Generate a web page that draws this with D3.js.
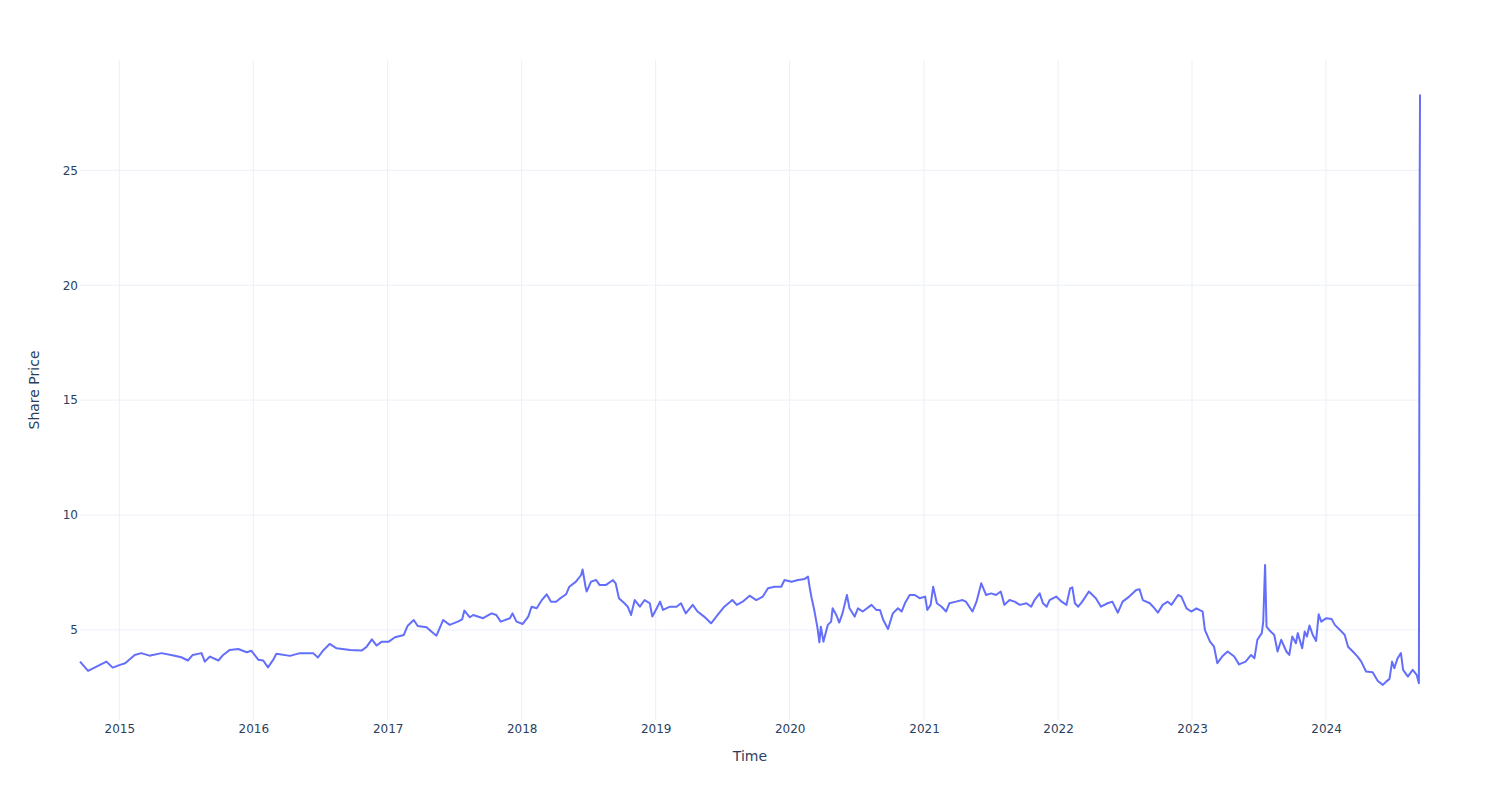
<!DOCTYPE html>
<html>
<head>
<meta charset="utf-8">
<script src="https://cdn.jsdelivr.net/npm/d3@7"></script>
<style>
  html, body { margin: 0; padding: 0; background: #fff; }
  svg { display: block; }
</style>
</head>
<body>
<svg id="chart" width="1500" height="800"></svg>
<script>
const dates = [
"2014-09-16","2014-10-08","2014-11-27","2014-12-14","2015-01-03","2015-01-17","2015-02-12","2015-03-02","2015-03-24","2015-04-26",
"2015-06-01","2015-06-19","2015-07-07","2015-07-20","2015-08-13","2015-08-22","2015-09-05","2015-09-28","2015-10-11","2015-10-29",
"2015-11-21","2015-12-14","2015-12-27","2016-01-15","2016-01-28","2016-02-10","2016-02-25","2016-03-04","2016-04-10","2016-05-07",
"2016-06-12","2016-06-25","2016-07-09","2016-07-27","2016-08-15","2016-09-21","2016-10-22","2016-11-05","2016-11-19","2016-12-02",
"2016-12-16","2017-01-04","2017-01-21","2017-02-14","2017-02-24","2017-03-13","2017-03-24","2017-04-17","2017-04-30","2017-05-14",
"2017-06-01","2017-06-19","2017-07-11","2017-07-23","2017-07-29","2017-08-13","2017-08-22","2017-09-18","2017-10-11","2017-10-24",
"2017-11-05","2017-11-30","2017-12-07","2017-12-18","2018-01-04","2018-01-19","2018-01-28","2018-02-11","2018-02-25","2018-03-10",
"2018-03-22","2018-04-05","2018-04-14","2018-05-02","2018-05-11","2018-05-29","2018-06-12","2018-06-16","2018-06-24","2018-06-27",
"2018-07-09","2018-07-23","2018-08-01","2018-08-19","2018-09-07","2018-09-14","2018-09-23","2018-10-08","2018-10-17","2018-10-26",
"2018-11-05","2018-11-19","2018-12-02","2018-12-16","2018-12-23","2019-01-04","2019-01-13","2019-01-21","2019-02-09","2019-02-27",
"2019-03-11","2019-03-24","2019-04-12","2019-04-25","2019-05-13","2019-06-01","2019-06-19","2019-07-07","2019-07-29","2019-08-10",
"2019-08-26","2019-09-14","2019-10-02","2019-10-20","2019-11-03","2019-11-21","2019-12-09","2019-12-18","2020-01-06","2020-01-24",
"2020-02-11","2020-02-20","2020-02-25","2020-03-01","2020-03-08","2020-03-17","2020-03-22","2020-03-26","2020-04-02","2020-04-14",
"2020-04-23","2020-04-27","2020-05-07","2020-05-15","2020-05-24","2020-06-05","2020-06-12","2020-06-26","2020-07-05","2020-07-18",
"2020-08-11","2020-08-24","2020-09-03","2020-09-12","2020-09-25","2020-10-08","2020-10-22","2020-11-01","2020-11-10","2020-11-23",
"2020-12-07","2020-12-20","2021-01-04","2021-01-10","2021-01-19","2021-01-26","2021-02-05","2021-02-18","2021-03-02","2021-03-11",
"2021-03-29","2021-04-16","2021-04-25","2021-05-13","2021-05-24","2021-06-06","2021-06-19","2021-07-03","2021-07-16","2021-07-29",
"2021-08-08","2021-08-22","2021-09-05","2021-09-19","2021-10-07","2021-10-20","2021-10-29","2021-11-12","2021-11-21","2021-12-01",
"2021-12-09","2021-12-27","2022-01-11","2022-01-24","2022-02-03","2022-02-09","2022-02-16","2022-02-25","2022-03-08","2022-03-26",
"2022-04-14","2022-04-28","2022-05-16","2022-05-29","2022-06-13","2022-06-26","2022-07-14","2022-08-02","2022-08-11","2022-08-20",
"2022-09-08","2022-09-17","2022-09-30","2022-10-13","2022-10-27","2022-11-06","2022-11-24","2022-12-03","2022-12-17","2022-12-30",
"2023-01-13","2023-01-30","2023-02-05","2023-02-19","2023-03-02","2023-03-11","2023-03-24","2023-04-08","2023-04-26","2023-05-09",
"2023-05-27","2023-06-11","2023-06-20","2023-06-28","2023-07-10","2023-07-14","2023-07-19","2023-07-23","2023-07-30","2023-08-13",
"2023-08-22","2023-09-01","2023-09-15","2023-09-23","2023-10-01","2023-10-11","2023-10-16","2023-10-28","2023-11-04","2023-11-10",
"2023-11-17","2023-11-26","2023-12-05","2023-12-12","2023-12-19","2024-01-02","2024-01-16","2024-01-25","2024-02-08","2024-02-21",
"2024-03-01","2024-03-14","2024-03-27","2024-04-06","2024-04-19","2024-05-07","2024-05-21","2024-06-04","2024-06-13","2024-06-22",
"2024-06-29","2024-07-05","2024-07-14","2024-07-23","2024-07-29","2024-08-11","2024-08-24","2024-09-04","2024-09-10","2024-09-12",
"2024-09-13"
];
const prices = [
3.62,3.22,3.62,3.36,3.48,3.55,3.91,3.99,3.88,3.99,
3.88,3.81,3.67,3.91,3.99,3.62,3.84,3.67,3.91,4.13,
4.17,4.03,4.09,3.70,3.67,3.37,3.72,3.96,3.87,3.99,
3.99,3.80,4.10,4.39,4.20,4.13,4.10,4.27,4.59,4.32,
4.49,4.49,4.68,4.78,5.17,5.43,5.17,5.12,4.93,4.75,
5.43,5.22,5.36,5.46,5.84,5.55,5.65,5.51,5.72,5.65,
5.36,5.51,5.72,5.36,5.26,5.58,6.01,5.94,6.30,6.55,
6.23,6.23,6.35,6.55,6.88,7.10,7.39,7.63,6.88,6.67,
7.10,7.17,6.96,6.96,7.17,7.03,6.38,6.16,6.01,5.65,
6.30,6.01,6.30,6.16,5.58,5.94,6.23,5.87,6.01,6.01,
6.16,5.72,6.09,5.80,5.58,5.29,5.65,6.01,6.30,6.09,
6.23,6.49,6.30,6.45,6.81,6.88,6.88,7.17,7.10,7.17,
7.22,7.32,6.81,6.38,5.87,5.07,4.46,5.14,4.49,5.22,
5.36,5.94,5.65,5.32,5.72,6.52,5.94,5.58,5.94,5.80,
6.09,5.87,5.87,5.43,5.04,5.72,5.94,5.80,6.16,6.52,
6.52,6.38,6.45,5.87,6.09,6.88,6.16,6.01,5.80,6.16,
6.23,6.30,6.23,5.80,6.23,7.03,6.52,6.59,6.52,6.67,
6.09,6.30,6.23,6.09,6.16,6.01,6.30,6.59,6.16,6.01,
6.30,6.45,6.23,6.09,6.81,6.85,6.16,6.01,6.23,6.67,
6.38,6.01,6.16,6.23,5.75,6.23,6.45,6.74,6.77,6.30,
6.16,6.01,5.75,6.09,6.23,6.09,6.52,6.45,5.94,5.80,
5.94,5.80,5.00,4.49,4.27,3.55,3.84,4.06,3.84,3.50,
3.62,3.91,3.77,4.57,4.86,5.36,7.83,5.14,5.00,4.78,
4.06,4.57,4.06,3.91,4.71,4.42,4.86,4.20,4.93,4.71,
5.19,4.78,4.52,5.68,5.36,5.51,5.48,5.22,5.00,4.78,
4.27,4.06,3.84,3.62,3.19,3.16,2.78,2.61,2.75,2.87,
3.62,3.33,3.77,3.99,3.26,2.97,3.26,3.04,2.68,23.4,
28.3
];
const yTicks = [5, 10, 15, 20, 25];
const xTickYears = [2015, 2016, 2017, 2018, 2019, 2020, 2021, 2022, 2023, 2024];
const xTitle = "Time";
const yTitle = "Share Price";

const parse = d3.timeParse("%Y-%m-%d");
const data = dates.map((d, i) => ({ date: parse(d), value: prices[i] }));

const W = 1500, H = 800;
const m = { left: 80, right: 80, top: 60, bottom: 80 };
const font = "'DejaVu Sans', Verdana, sans-serif";
const textColor = "#2a3f5f";
const gridColor = "#EBF0F8";

const svg = d3.select("#chart");

const x = d3.scaleTime()
  .domain(d3.extent(data, d => d.date))
  .range([m.left, W - m.right]);
const y = d3.scaleLinear()
  .domain([1.08, 29.8])
  .range([H - m.bottom, m.top]);

const xTickDates = xTickYears.map(yr => new Date(yr, 0, 1));

// grid
const grid = svg.append("g");
grid.selectAll("line.vx").data(xTickDates).join("line")
  .attr("x1", d => x(d)).attr("x2", d => x(d))
  .attr("y1", m.top).attr("y2", H - m.bottom)
  .attr("stroke", gridColor).attr("stroke-width", 1);
grid.selectAll("line.hy").data(yTicks).join("line")
  .attr("x1", m.left).attr("x2", W - m.right)
  .attr("y1", d => y(d)).attr("y2", d => y(d))
  .attr("stroke", gridColor).attr("stroke-width", 1);

// axes
const xAxis = d3.axisBottom(x).tickValues(xTickDates)
  .tickFormat(d3.timeFormat("%Y")).tickSize(0).tickPadding(4);
const gx = svg.append("g").attr("transform", `translate(0,${H - m.bottom})`).call(xAxis);
gx.select(".domain").remove();
gx.selectAll("text").attr("font-family", font).attr("font-size", 12).attr("fill", textColor);

const yAxis = d3.axisLeft(y).tickValues(yTicks).tickSize(0).tickPadding(2);
const gy = svg.append("g").attr("transform", `translate(${m.left},0)`).call(yAxis);
gy.select(".domain").remove();
gy.selectAll("text").attr("font-family", font).attr("font-size", 12).attr("fill", textColor);

// line
const line = d3.line().x(d => x(d.date)).y(d => y(d.value));
svg.append("path").datum(data)
  .attr("d", line)
  .attr("fill", "none")
  .attr("stroke", "#636efa")
  .attr("stroke-width", 2)
  .attr("stroke-linejoin", "round");

// titles
svg.append("text")
  .attr("x", m.left + (W - m.left - m.right) / 2)
  .attr("y", 761)
  .attr("text-anchor", "middle")
  .attr("font-family", font).attr("font-size", 14).attr("fill", textColor)
  .text(xTitle);
svg.append("text")
  .attr("transform", `translate(39,${m.top + (H - m.top - m.bottom) / 2}) rotate(-90)`)
  .attr("text-anchor", "middle")
  .attr("font-family", font).attr("font-size", 14).attr("fill", textColor)
  .text(yTitle);
</script>
</body>
</html>
